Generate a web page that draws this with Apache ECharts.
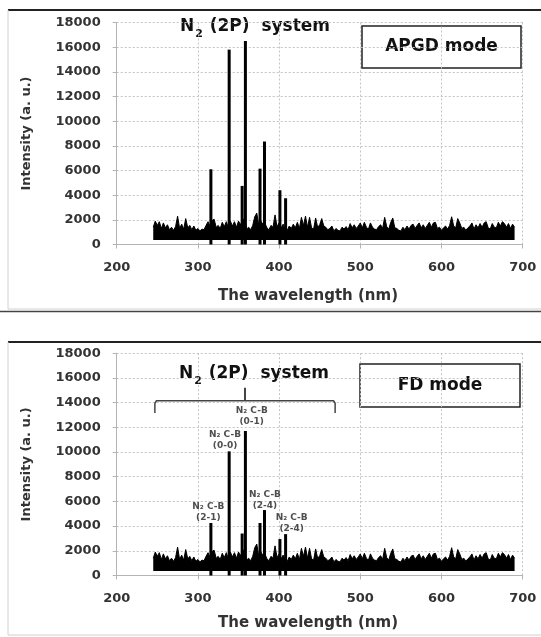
<!DOCTYPE html>
<html>
<head>
<meta charset="UTF-8">
<title>N2 (2P) emission</title>
<script src="https://cdn.jsdelivr.net/npm/echarts@6/dist/echarts.min.js"></script>
<style>
  html, body { margin: 0; padding: 0; background: #fff; }
  #chart { width: 541px; height: 637px; }
</style>
</head>
<body>
<div id="chart"></div>
<script>
// axis ticks
var xTicks = [200, 300, 400, 500, 600, 700];
var yTicks = [0, 2000, 4000, 6000, 8000, 10000, 12000, 14000, 16000, 18000];

// noisy background, same in both spectra: upper edge every 2.5 nm from 245 nm
var noiseStart = 245;
var noiseStep = 2.5;
var noiseFloor = 370;
var noiseTop = [
  1400, 1900, 1550, 1850, 1300, 1750, 1350, 1600, 1200, 1400,
  1150, 1450, 2300, 1300, 1650, 1250, 2100, 1350, 1550, 1200,
  1500, 1150, 1300, 1100, 1250, 1200, 1550, 1850, 1450, 1950,
  2050, 1400, 1550, 1300, 1800, 1450, 1850, 1350, 1900, 1500,
  1850, 1400, 1900, 1600, 2000, 2100, 1250, 1400, 1200, 1550,
  2250, 2550, 1550, 1900, 1650, 1750, 1350, 1200, 1550, 1400,
  2400, 1450, 1750, 1350, 1650, 1200, 1150, 1500, 1300, 1650,
  1350, 1800, 1300, 2200, 1550, 2300, 1400, 2200, 1350, 1250,
  2150, 1400, 1600, 2100, 1500, 1400, 1200, 1300, 1500, 1100,
  1300, 1150, 1100, 1400, 1250, 1450, 1200, 1700, 1350, 1600,
  1300, 1500, 1750, 1350, 1800, 1400, 1250, 1750, 1400, 1250,
  1200, 1450, 1600, 1300, 2200, 1450, 1250, 1800, 2150, 1350,
  1300, 1150, 1100, 1400, 1200, 1500, 1250, 1550, 1650, 1300,
  1550, 1750, 1350, 1600, 1300, 1550, 1800, 1400, 1750, 1800,
  1300, 1400, 1150, 1350, 1500, 1250, 1550, 2250, 1500, 1350,
  2100, 1750, 1300, 1400, 1150, 1350, 1500, 1750, 1250, 1600,
  1350, 1700, 1400, 1750, 1850, 1350, 1250, 1700, 1400, 1350,
  1800, 1500, 1850, 1700, 1400, 1700, 1300, 1650,
  1400
];

// N2 second positive system lines
var peakWl   = [316, 338.5, 354.5, 358.5, 376.5, 382, 401, 408];
var apgdPeak = [6100, 15800, 4750, 16500, 6150, 8350, 4400, 3750];
var fdPeak   = [4250, 10050, 3400, 11700, 4250, 5300, 2950, 3350];

// FD panel band labels
var fdLabelText = ['N\u2082 C-B\n(2-1)', 'N\u2082 C-B\n(0-0)', 'N\u2082 C-B\n(0-1)', 'N\u2082 C-B\n(2-4)', 'N\u2082 C-B\n(2-4)'];
var fdLabelAt = [[312.8, 5140], [333.4, 10990], [366.3, 12900], [382.6, 6090], [415.5, 4210]];

// brace over the N2 (2P) region
var braceX = [247, 247, 249, 467, 469, 469];
var braceY = [13150, 13950, 14150, 14150, 13950, 13150];
var braceTickX = [358, 358];
var braceTickY = [14150, 15200];

var FONT = 'DejaVu Sans';

var bandData = [];
for (var i = 0; i < noiseTop.length; i++) {
  bandData.push([noiseStart + i * noiseStep, noiseTop[i]]);
}

function pairs(xs, ys) {
  var out = [];
  for (var i = 0; i < xs.length; i++) out.push([xs[i], ys[i]]);
  return out;
}

function plain(v) { return String(v); }

function xAxisFor(g) {
  return {
    gridIndex: g, type: 'value', min: xTicks[0], max: xTicks[xTicks.length - 1],
    interval: xTicks[1] - xTicks[0],
    axisLine: { show: true, lineStyle: { color: '#b4b4b4', width: 1 } },
    axisTick: { show: true, length: 4, lineStyle: { color: '#b4b4b4' } },
    axisLabel: { margin: 17, formatter: plain, fontFamily: FONT, fontWeight: 'bold', fontSize: 13, color: '#333' },
    splitLine: { show: true, lineStyle: { color: '#c4c4c4', type: [2, 2], width: 1 } }
  };
}

function yAxisFor(g) {
  return {
    gridIndex: g, type: 'value', min: yTicks[0], max: yTicks[yTicks.length - 1],
    interval: yTicks[1] - yTicks[0],
    name: 'Intensity (a. u.)', nameLocation: 'middle', nameGap: 84,
    nameTextStyle: { fontFamily: FONT, fontWeight: 'bold', fontSize: 13, color: '#333' },
    axisLine: { show: true, lineStyle: { color: '#b4b4b4', width: 1 } },
    axisTick: { show: true, length: 4, lineStyle: { color: '#b4b4b4' } },
    axisLabel: { margin: 16, formatter: plain, fontFamily: FONT, fontWeight: 'bold', fontSize: 13, color: '#333' },
    splitLine: { show: true, lineStyle: { color: '#c4c4c4', type: [2, 2], width: 1 } }
  };
}

function spectrum(g, peaks) {
  return [
    { type: 'line', xAxisIndex: g, yAxisIndex: g, data: bandData,
      symbol: 'none', silent: true, lineStyle: { color: '#000', width: 1 },
      areaStyle: { color: '#000', opacity: 1, origin: noiseFloor } },
    { type: 'bar', xAxisIndex: g, yAxisIndex: g, data: pairs(peakWl, peaks),
      barWidth: 3, silent: true, itemStyle: { color: '#000' } }
  ];
}

function titleText(x, y) {
  return {
    type: 'text', x: x, y: y,
    style: {
      text: '{a|N}{b|2}{a| (2P)  system}', align: 'center', verticalAlign: 'middle',
      rich: {
        a: { fontFamily: FONT, fontWeight: 'bold', fontSize: 17, lineHeight: 25, fill: '#111' },
        b: { fontFamily: FONT, fontWeight: 'bold', fontSize: 11, lineHeight: 11, padding: [14, 1, 0, 1], verticalAlign: 'bottom', fill: '#111' }
      }
    }
  };
}

function modeBox(x, y, w, h, label) {
  return [
    { type: 'rect', shape: { x: x, y: y, width: w, height: h },
      style: { fill: '#fff', stroke: '#222', lineWidth: 1.5 } },
    { type: 'text', x: x + w / 2, y: y + h / 2,
      style: { text: label, align: 'center', verticalAlign: 'middle',
        font: 'bold 17px "' + FONT + '"', fill: '#111' } }
  ];
}

function xName(y) {
  return { type: 'text', x: 308, y: y,
    style: { text: 'The wavelength (nm)', align: 'center', verticalAlign: 'middle',
      font: 'bold 15px "' + FONT + '"', fill: '#333' } };
}

var series = spectrum(0, apgdPeak).concat(spectrum(1, fdPeak));

series.push({
  type: 'scatter', xAxisIndex: 1, yAxisIndex: 1, symbolSize: 1, silent: true,
  itemStyle: { color: 'rgba(0,0,0,0)' },
  data: fdLabelAt.map(function (p, i) { return { value: p, name: fdLabelText[i] }; }),
  label: { show: true, position: 'inside', formatter: '{b}', fontFamily: FONT,
    fontWeight: 'bold', fontSize: 9, lineHeight: 11, color: '#222' }
});
series.push({
  type: 'line', xAxisIndex: 1, yAxisIndex: 1, data: pairs(braceX, braceY), symbol: 'none',
  silent: true, lineStyle: { color: '#444', width: 1.5 }
});
series.push({
  type: 'line', xAxisIndex: 1, yAxisIndex: 1, data: pairs(braceTickX, braceTickY), symbol: 'none',
  silent: true, lineStyle: { color: '#444', width: 2 }
});

var graphics = [
  // panel frames
  { type: 'line', shape: { x1: 8, y1: 10, x2: 541, y2: 10 }, style: { stroke: '#222', lineWidth: 2 } },
  { type: 'line', shape: { x1: 8, y1: 10, x2: 8, y2: 309 }, style: { stroke: '#d0d0d0', lineWidth: 1 } },
  { type: 'line', shape: { x1: 8, y1: 309, x2: 541, y2: 309 }, style: { stroke: '#d0d0d0', lineWidth: 1 } },
  { type: 'line', shape: { x1: 0, y1: 311.5, x2: 541, y2: 311.5 }, style: { stroke: '#444', lineWidth: 1.5 } },
  { type: 'line', shape: { x1: 8, y1: 342, x2: 541, y2: 342 }, style: { stroke: '#222', lineWidth: 2 } },
  { type: 'line', shape: { x1: 8, y1: 342, x2: 8, y2: 635 }, style: { stroke: '#d0d0d0', lineWidth: 1 } },
  { type: 'line', shape: { x1: 8, y1: 635, x2: 541, y2: 635 }, style: { stroke: '#d0d0d0', lineWidth: 1 } },
  titleText(255, 27),
  titleText(254, 374),
  xName(296.5),
  xName(623)
].concat(modeBox(362, 26, 159, 42, 'APGD mode'))
 .concat(modeBox(360, 364, 160, 43, 'FD mode'));

var chart = echarts.init(document.getElementById('chart'));
chart.setOption({
  animation: false,
  backgroundColor: '#fff',
  grid: [
    { left: 116.7, top: 22.5, width: 406, height: 222 },
    { left: 116.7, top: 353.2, width: 406, height: 222.3 }
  ],
  xAxis: [xAxisFor(0), xAxisFor(1)],
  yAxis: [yAxisFor(0), yAxisFor(1)],
  series: series,
  graphic: graphics
});
</script>
</body>
</html>
